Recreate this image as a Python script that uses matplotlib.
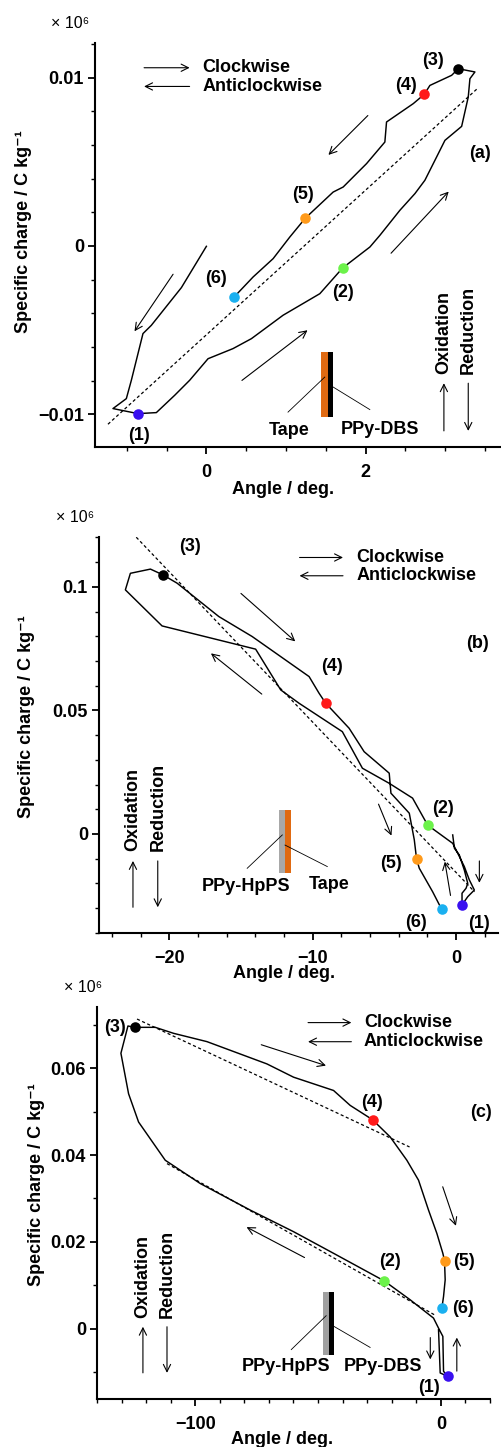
import matplotlib
matplotlib.use('Agg')
import matplotlib.pyplot as plt
from matplotlib.patches import Rectangle
from matplotlib.ticker import MultipleLocator

plt.rcParams['font.family'] = ['Liberation Sans', 'DejaVu Sans']
plt.rcParams['font.weight'] = 'bold'
plt.rcParams['font.size'] = 13

W, H = 501, 1447

# ---------------- panel (a): PPy-DBS / tape
a_angle = [0.0, -0.314, -0.692, -0.797, -0.943, -1.006, -1.174, -0.860, -0.629, -0.398,
           -0.210, 0.021, 0.335, 0.566, 0.964, 1.426, 1.593, 1.711, 2.055, 2.180,
           2.432, 2.621, 2.746, 2.893, 2.998, 3.208, 3.291, 3.312, 3.375, 3.166,
           3.082, 2.809, 2.738, 2.600, 2.264, 2.243, 2.013, 1.719, 1.593, 1.245,
           1.048, 0.839, 0.587, 0.348]
a_charge = [-0.00002, -0.00247, -0.00471, -0.00520, -0.00797, -0.00906, -0.00965, -0.00995,
            -0.00989, -0.00886, -0.00797, -0.00669, -0.00609, -0.00550, -0.00411, -0.00283,
            -0.00194, -0.00131, -0.00006, 0.00063, 0.00212, 0.00311, 0.00390, 0.00528,
            0.00627, 0.00710, 0.00884, 0.00993, 0.01033, 0.01052, 0.01013, 0.00953,
            0.00900, 0.00845, 0.00736, 0.00617, 0.00489, 0.00350, 0.00320, 0.00166,
            0.00053, -0.00075, -0.00184, -0.00303]
a_fit_angle = [-1.237, 3.405]
a_fit_charge = [-0.01058, 0.00934]
a_pt_angle = [-0.860, 1.711, 3.166, 2.738, 1.245, 0.348]
a_pt_charge = [-0.00995, -0.00131, 0.01052, 0.00900, 0.00166, -0.00303]

# ---------------- panel (b): PPy-HpPS / tape
b_angle = [-0.22, -0.10, 0.24, 0.59, 0.83, 0.71, 0.43, 0.43, 0.83, 1.29,
           0.94, 0.59, 0.13, -0.22, -1.50, -1.97, -3.02, -4.65, -6.52, -7.92,
           -10.94, -12.22, -13.97, -20.50, -23.06, -22.71, -21.31, -20.45, -19.45, -16.54,
           -14.21, -10.24, -9.55, -9.08, -7.45, -6.40, -4.65, -4.53, -3.25, -2.90,
           -2.74, -2.55, -1.62, -1.15, -0.97]
b_charge = [-0.0004, -0.0058, -0.0085, -0.0146, -0.0200, -0.0220, -0.0240, -0.0287, -0.0254, -0.0227,
            -0.0186, -0.0132, -0.0078, -0.0038, 0.0016, 0.0036, 0.0145, 0.0205, 0.0266, 0.0414,
            0.0529, 0.0583, 0.0748, 0.0842, 0.0988, 0.1055, 0.1072, 0.1049, 0.1015, 0.0880,
            0.0799, 0.0637, 0.0570, 0.0529, 0.0428, 0.0333, 0.0246, 0.0165, 0.0084, -0.0024,
            -0.0102, -0.0139, -0.0234, -0.0287, -0.0305]
b_fit_angle = [-22.3, 1.3]
b_fit_charge = [0.1201, -0.0234]
b_pt_angle = [0.43, -1.97, -20.45, -9.08, -2.74, -0.97]
b_pt_charge = [-0.0287, 0.0036, 0.1049, 0.0529, -0.0102, -0.0305]

# ---------------- panel (c): PPy-HpPS / PPy-DBS
c_angle = [-0.95, -0.27, 2.71, 1.09, 0.81, -0.95, -2.99, -12.48, -23.07, -43.69,
           -59.97, -77.61, -97.96, -112.21, -123.07, -127.14, -130.26, -127.4, -124.7, -116.28,
           -108.82, -95.25, -70.83, -59.97, -43.69, -36.91, -27.82, -20.62, -13.84, -9.09,
           -5.02, -1.63, 0.81, 1.49, 1.76, 1.09, 0.41]
c_charge = [-0.00023, -0.01018, -0.01094, -0.00980, -0.00176, 0.00015, 0.00245, 0.00666, 0.01102, 0.01737,
            0.02235, 0.02732, 0.03344, 0.03880, 0.04760, 0.05411, 0.06344, 0.06972, 0.06941, 0.06941,
            0.06803, 0.06612, 0.06099, 0.05793, 0.05487, 0.05143, 0.04814, 0.04416, 0.03880, 0.03421,
            0.02732, 0.02196, 0.01737, 0.01569, 0.01125, 0.00742, 0.00474]
c_fit1_angle = [-123.7, -12.75]
c_fit1_charge = [0.07132, 0.04186]
c_fit2_angle = [-111.5, -1.9]
c_fit2_charge = [0.03803, 0.00298]
c_pt_angle = [2.71, -23.07, -124.7, -27.82, 1.49, 0.41]
c_pt_charge = [-0.01094, 0.01102, 0.06941, 0.04814, 0.01569, 0.00474]

pt_names = ['(1)', '(2)', '(3)', '(4)', '(5)', '(6)']
pt_colors = ['#3a10f0', '#6cf24a', 'black', '#ff1a1a', '#ff9a1a', '#1ab0f0']

a_xticks, a_xlabels = [0, 2], ['0', '2']
a_yticks, a_ylabels = [-0.01, 0, 0.01], ['\u22120.01', '0', '0.01']
b_xticks, b_xlabels = [-20, -10, 0], ['\u221220', '\u221210', '0']
b_yticks, b_ylabels = [0, 0.05, 0.1], ['0', '0.05', '0.1']
c_xticks, c_xlabels = [-100, 0], ['\u2212100', '0']
c_yticks, c_ylabels = [0, 0.02, 0.04, 0.06], ['0', '0.02', '0.04', '0.06']


def px(x, y):
    return x / W, 1 - y / H


def style(ax, xlim, ylim, xt, xl, xminor, yt, yl, yminor):
    ax.set_xlim(xlim)
    ax.set_ylim(ylim)
    ax.set_xticks(xt)
    ax.set_xticklabels(xl)
    ax.set_yticks(yt)
    ax.set_yticklabels(yl)
    ax.xaxis.set_minor_locator(MultipleLocator(xminor))
    ax.yaxis.set_minor_locator(MultipleLocator(yminor))
    for s in ['top', 'right']:
        ax.spines[s].set_visible(False)
    for s in ['left', 'bottom']:
        ax.spines[s].set_linewidth(1.5)
    ax.tick_params(which='major', direction='out', length=5, width=1.3, labelsize=13)
    ax.tick_params(which='minor', direction='out', length=3, width=1.0)
    ax.tick_params(axis='x', which='major', pad=7)
    ax.tick_params(axis='y', which='major', pad=3)


def arrow(ax, x0, y0, x1, y1):
    ax.annotate('', xy=(x1, y1), xytext=(x0, y0),
                arrowprops=dict(arrowstyle='->', lw=0.8, color='black', mutation_scale=13))


def points(ax, xs, ys, lx, ly):
    for i in range(6):
        ax.plot(xs[i], ys[i], 'o', ms=7.6, color=pt_colors[i], mec='none', zorder=5)
        ax.text(lx[i], ly[i], pt_names[i], ha='center', va='center')


def legend_arrows(ax, x0, x1, y1, y2, tx):
    arrow(ax, x0, y1, x1, y1)
    arrow(ax, x1, y2, x0, y2)
    ax.text(tx, y1, 'Clockwise', ha='left', va='center')
    ax.text(tx, y2, 'Anticlockwise', ha='left', va='center')


def redox(ax, xo, xr, ylow, yhigh, ytext):
    arrow(ax, xo, ylow, xo, yhigh)
    arrow(ax, xr, yhigh, xr, ylow)
    ax.text(xo, ytext, 'Oxidation', rotation=90, ha='center', va='bottom')
    ax.text(xr, ytext, 'Reduction', rotation=90, ha='center', va='bottom')


fig = plt.figure(figsize=(W / 100, H / 100), dpi=100)

# ---------------- (a)
ax = fig.add_axes([0.1896, 0.6911, 0.8084, 0.2792])
ax.plot(a_fit_angle, a_fit_charge, color='black', lw=0.9, ls=(0, (2.5, 2)))
ax.plot(a_angle, a_charge, color='black', lw=1.05)
points(ax, a_pt_angle, a_pt_charge,
       [-0.848, 1.718, 2.843, 2.506, 1.215, 0.126],
       [-0.01124, -0.00279, 0.01103, 0.00954, 0.00305, -0.00194])
style(ax, (-1.40, 3.69), (-0.01193, 0.01205), a_xticks, a_xlabels, 0.5, a_yticks, a_ylabels, 0.002)
legend_arrows(ax, -0.818, -0.176, 0.01058, 0.00947, -0.05)
arrow(ax, 2.054, 0.00786, 1.509, 0.00529)
arrow(ax, -0.399, -0.00154, -0.923, -0.0052)
arrow(ax, 0.419, -0.00808, 1.299, -0.0049)
arrow(ax, 2.297, -0.00055, 3.069, 0.00335)
redox(ax, 2.985, 3.291, -0.01114, -0.00798, -0.00758)
ax.text(3.438, 0.00549, '(a)', ha='center', va='center')
ax.add_patch(Rectangle((1.438, -0.01015), 0.092, 0.00386, color='#e06a12', lw=0))
ax.add_patch(Rectangle((1.530, -0.01015), 0.062, 0.00386, color='black', lw=0))
ax.plot([1.488, 1.026], [-0.00778, -0.00986], color='black', lw=0.6)
ax.plot([1.592, 2.054], [-0.00837, -0.00971], color='black', lw=0.6)
ax.text(1.039, -0.01094, 'Tape', ha='center', va='center')
ax.text(2.180, -0.0109, 'PPy-DBS', ha='center', va='center')

# ---------------- (b)
ax = fig.add_axes([0.1976, 0.3552, 0.7964, 0.2737])
ax.plot(b_fit_angle, b_fit_charge, color='black', lw=0.9, ls=(0, (2.5, 2)))
ax.plot(b_angle, b_charge, color='black', lw=1.05)
points(ax, b_pt_angle, b_pt_charge,
       [1.64, -0.92, -18.52, -8.62, -4.53, -2.78],
       [-0.0362, 0.0104, 0.1163, 0.0677, -0.0119, -0.0359])
style(ax, (-24.9, 2.94), (-0.0401, 0.1202), b_xticks, b_xlabels, 2, b_yticks, b_ylabels, 0.01)
legend_arrows(ax, -11.10, -7.68, 0.1119, 0.1045, -6.95)
arrow(ax, -15.14, 0.0981, -11.06, 0.0772)
arrow(ax, -13.39, 0.0559, -17.24, 0.0738)
arrow(ax, -5.47, 0.0131, -4.42, -0.0017)
arrow(ax, -0.34, -0.0260, -0.80, -0.0101)
arrow(ax, 1.64, -0.0098, 1.64, -0.0209)
redox(ax, -22.53, -20.80, -0.0308, -0.0098, -0.0070)
ax.text(1.48, 0.0769, '(b)', ha='center', va='center')
ax.add_patch(Rectangle((-12.34, -0.0157), 0.42, 0.0254, color='#a8a8a8', lw=0))
ax.add_patch(Rectangle((-11.92, -0.0157), 0.44, 0.0254, color='#e06a12', lw=0))
ax.plot([-12.11, -14.56], [-0.0004, -0.0139], color='black', lw=0.6)
ax.plot([-11.92, -8.97], [-0.0045, -0.0132], color='black', lw=0.6)
ax.text(-14.67, -0.0211, 'PPy-HpPS', ha='center', va='center')
ax.text(-8.85, -0.0206, 'Tape', ha='center', va='center')

# ---------------- (c)
ax = fig.add_axes([0.1936, 0.0332, 0.7844, 0.2709])
ax.plot(c_fit1_angle, c_fit1_charge, color='black', lw=0.9, ls=(0, (2.5, 2)))
ax.plot(c_fit2_angle, c_fit2_charge, color='black', lw=0.9, ls=(0, (2.5, 2)))
ax.plot(c_angle, c_charge, color='black', lw=1.05)
points(ax, c_pt_angle, c_pt_charge,
       [-5.0, -20.9, -132.6, -28.1, 9.5, 9.2],
       [-0.0135, 0.0156, 0.0694, 0.0520, 0.0156, 0.0046])
style(ax, (-140, 20), (-0.01617, 0.0741), c_xticks, c_xlabels, 10, c_yticks, c_ylabels, 0.01)
legend_arrows(ax, -55.2, -35.3, 0.0705, 0.0661, -31.3)
arrow(ax, -74.2, 0.0656, -45.7, 0.0604)
arrow(ax, 0.4, 0.0333, 6.5, 0.0231)
arrow(ax, -54.5, 0.0161, -80.1, 0.0237)
arrow(ax, -4.3, -0.0014, -4.3, -0.0077)
arrow(ax, 6.5, -0.0104, 6.5, -0.0014)
redox(ax, -121.3, -111.5, -0.0108, 0.0011, 0.00245)
ax.text(16.4, 0.0497, '(c)', ha='center', va='center')
ax.add_patch(Rectangle((-47.8, -0.00597), 2.1, 0.01454, color='#a0a0a0', lw=0))
ax.add_patch(Rectangle((-45.7, -0.00597), 2.3, 0.01454, color='black', lw=0))
ax.plot([-46.7, -60.9], [0.0030, -0.0048], color='black', lw=0.6)
ax.plot([-43.4, -28.8], [0.0005, -0.0043], color='black', lw=0.6)
ax.text(-63.0, -0.0088, 'PPy-HpPS', ha='center', va='center')
ax.text(-23.6, -0.0086, 'PPy-DBS', ha='center', va='center')

# ---------------- shared labels
ylab = 'Specific charge / C kg\u207b\u00b9'
for xl, yl, ysl in [((283, 490), (23.3, 232), (70, 23)),
                    ((284, 974), (26.7, 717), (75, 518)),
                    ((282, 1440), (36.7, 1185), (83, 987))]:
    fig.text(*px(*xl), 'Angle / deg.', ha='center', va='center')
    fig.text(*px(*yl), ylab, ha='center', va='center', rotation=90)
    fig.text(*px(*ysl), '\u00d7 10\u2076', ha='center', va='center', fontsize=11.5, fontweight='normal')

fig.savefig('out.png', dpi=100)
